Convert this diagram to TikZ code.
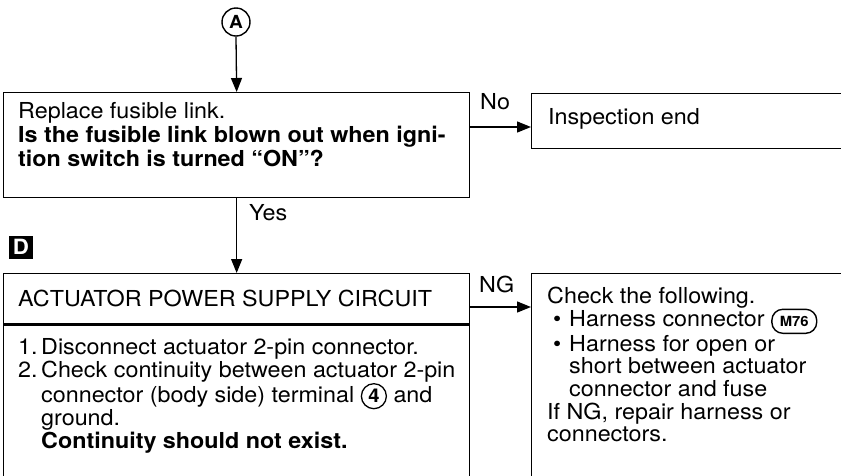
\documentclass[tikz,border=0pt]{standalone}
\usepackage{fontspec}
\setmainfont{TeX Gyre Heros}[FakeStretch=1.06]
\usetikzlibrary{arrows.meta,positioning}

\newcommand{\txtsize}{\fontsize{22}{24}\selectfont}
% số chân trong vòng tròn
\newcommand{\pinno}[1]{\tikz[baseline=(p.base)]\node[circle,draw,line width=1.3pt,inner sep=0pt,minimum size=25pt,font=\fontsize{19}{19}\selectfont\bfseries] (p) {#1};}
% mã giắc nối
\newcommand{\connid}[1]{\tikz[baseline=(c.base)]\node[rounded corners=11pt,draw,line width=1.4pt,inner xsep=8pt,minimum height=24pt,font=\fontsize{14}{14}\selectfont\bfseries] (c) {#1};}

\begin{document}
\begin{tikzpicture}[x=1pt,y=-1pt,
    frame/.style={draw,line width=1.3pt,anchor=north west,inner sep=0pt},
    txt/.style={align=left,inner sep=0pt,anchor=north west,font=\txtsize},
    lbl/.style={inner sep=0pt,anchor=base west,font=\txtsize},
    arr/.style={-{Triangle[length=14pt,width=11pt]},line width=1.3pt}]
    \useasboundingbox (0,0) rectangle (841,475);

    % Vòng tròn A
    \node[circle,draw,line width=1.4pt,minimum size=28pt,inner sep=0pt,font=\fontsize{18}{18}\selectfont\bfseries] (A) at (236,22) {A};

    % Vẽ các khung
    \node[frame,minimum width=466,minimum height=105] (fuse) at (3,92) {};
    \node[frame,minimum width=330,minimum height=55] (endbox) at (531,93) {};
    \node[frame,minimum width=466,minimum height=50] (pwr) at (3,273) {};
    \node[frame,minimum width=466,minimum height=200] (steps) at (pwr.south west) {};
    \node[frame,minimum width=330,minimum height=230] (chk) at (531,273) {};

    % Dấu D
    \node[fill=black,text=white,minimum width=24,minimum height=23,inner sep=0pt,font=\fontsize{21}{21}\selectfont\bfseries] (D) at (21,247) {D};

    % Nội dung các khung
    \node[txt] (fusetxt) at (18,102) {Replace fusible link.\\
        \textbf{Is the fusible link blown out when igni-}\\
        \textbf{tion switch is turned “ON”?}};
    \node[lbl] (endtxt) at (548,124) {Inspection end};
    \node[txt,anchor=west] (pwrtxt) at ([xshift=15]pwr.west) {ACTUATOR POWER SUPPLY CIRCUIT};
    \node[txt,font=\fontsize{22}{23}\selectfont] (stepstxt) at (18,338) {%
        \makebox[23pt][l]{1.}Disconnect actuator 2-pin connector.\\
        \makebox[23pt][l]{2.}Check continuity between actuator 2-pin\\
        \hspace*{23pt}connector (body side) terminal \pinno{4} and\\
        \hspace*{23pt}ground.\\
        \hspace*{23pt}\textbf{Continuity should not exist.}};
    \node[txt,font=\fontsize{22}{22.7}\selectfont] (chktxt) at (547,287) {Check the following.\\
        \hspace*{6pt}\makebox[16pt][l]{\textbullet}Harness connector \connid{M76}\\
        \hspace*{6pt}\makebox[16pt][l]{\textbullet}Harness for open or\\
        \hspace*{22pt}short between actuator\\
        \hspace*{22pt}connector and fuse\\
        If NG, repair harness or\\
        connectors.};

    % Vẽ các mũi tên
    \coordinate (noend) at ([yshift=-34pt]endbox.north west);
    \coordinate (ngend) at ([yshift=-34pt]chk.north west);
    \draw[arr] (A.south) -- (fuse.north);
    \draw[arr] (fuse.east |- noend) -- (noend);
    \draw[arr] (fuse.south) -- (pwr.north);
    \draw[arr] (pwr.east |- ngend) -- (ngend);

    % Nhãn trên mũi tên
    \node[lbl] (no) at (480,109) {No};
    \node[lbl] (yes) at (249,220) {Yes};
    \node[lbl] (ng) at (479,292) {NG};
\end{tikzpicture}
\end{document}
